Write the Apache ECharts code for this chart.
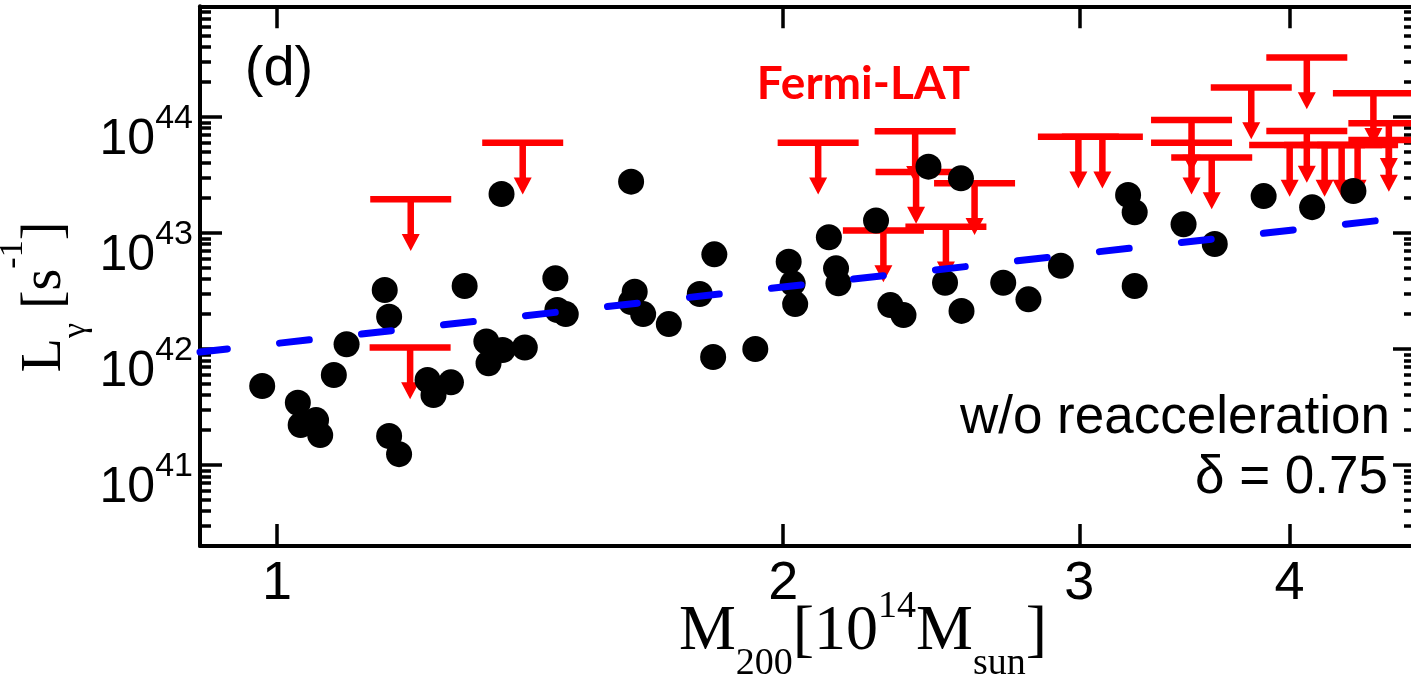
<!DOCTYPE html>
<html><head><meta charset="utf-8">
<script src="https://cdn.jsdelivr.net/npm/echarts@6/dist/echarts.min.js"></script>
<style>html,body{margin:0;padding:0;background:#fff}#c{width:1411px;height:683px}</style>
</head><body><div id="c"></div>
<script>
// ---------- data ----------
const xRange = [0.9, 4.75];
const yRange = [2e40, 9e44];
const xTickValues = [1, 2, 3, 4];
const yMajorExponents = [41, 42, 43, 44];
const yMinorExponents = [40, 41, 42, 43, 44];
const yMinorMultipliers = [2, 3, 4, 5, 6, 7, 8, 9];

// detected clusters (black dots): M200 [1e14 Msun], L_gamma [s^-1]
const detM = [0.980,1.029,1.033,1.055,1.061,1.081,1.100,1.159,1.166,1.166,1.182,1.229,1.239,1.269,1.293,1.332,1.336,1.362,1.404,1.360,1.464,1.468,1.485,1.624,1.632,1.624,1.651,1.710,1.784,1.820,1.817,1.925,2.015,2.026,2.033,2.129,2.150,2.157,2.271,2.440,2.551,2.316,2.358,2.496,2.553,2.703,2.798,2.925,3.207,3.236,3.236,3.460,3.611,3.861,4.126,4.366];
const detL = [4.80e41,3.44e41,2.21e41,2.44e41,1.81e41,5.97e41,1.10e42,3.23e42,1.90e42,1.78e41,1.24e41,5.41e41,4.01e41,5.16e41,3.49e42,1.16e42,7.53e41,9.80e41,1.03e42,2.17e43,4.07e42,2.17e42,2.00e42,2.77e43,3.12e42,2.54e42,2.00e42,1.64e42,2.98e42,6.55e42,8.53e41,1.00e42,5.66e42,3.68e42,2.44e42,9.18e42,4.96e42,3.68e42,1.28e43,3.73e43,2.96e43,2.39e42,1.96e42,3.73e42,2.13e42,3.73e42,2.68e42,5.22e42,2.13e43,1.51e43,3.49e42,1.19e43,8.04e42,2.08e43,1.67e43,2.30e43];

// Fermi-LAT upper limits (red)
const limM = [1.201,1.200,1.400,2.098,2.396,2.399,2.599,2.294,2.499,2.996,3.096,3.498,3.498,3.596,3.796,4.096,4.096,4.487,4.583,4.001,4.197,4.296,4.391,4.583];
const limL = [1.95e43,1.03e42,6.00e43,6.00e43,7.55e43,3.36e43,2.68e43,1.05e43,1.13e43,6.77e43,6.77e43,9.42e43,6.00e43,4.48e43,1.80e44,3.26e44,7.57e43,1.60e44,8.83e43,5.74e43,5.74e43,5.74e43,5.74e43,6.34e43];

// model curve (blue dashed, power law)
const modelM = [0.9, 4.75];
const modelL = [9.42e41, 1.39e43];

// ---------- chart ----------
const lg = Math.log10;
const xMinL = lg(xRange[0]), xMaxL = lg(xRange[1]);
const yMinL = lg(yRange[0]), yMaxL = lg(yRange[1]);
const xTicksL = xTickValues.map(lg);
const yMinorL = [];
yMinorExponents.forEach(n => yMinorMultipliers.forEach(m => {
  const v = n + lg(m);
  if (v >= yMinL - 1e-9 && v <= yMaxL + 1e-9) yMinorL.push(v);
}));

const K = '#000';
const sans = 'Liberation Sans', serif = 'Liberation Serif';
const lineSt = {show: true, onZero: false, lineStyle: {color: K, width: 4}};

function decoX(pos, labels) {
  return {
    type: 'value', position: pos, offset: 0, min: xMinL, max: xMaxL,
    axisLine: lineSt,
    axisTick: {show: true, inside: true, length: 22, customValues: xTicksL, lineStyle: {color: K, width: 3.5}},
    axisLabel: labels ? {show: true, customValues: xTicksL, margin: 11, color: K, fontSize: 54, fontFamily: sans,
      formatter: v => String(Math.round(Math.pow(10, v)))} : {show: false},
    splitLine: {show: false}
  };
}
function decoY(pos, major, labels) {
  const o = {
    type: 'value', position: pos, offset: 0, min: yMinL, max: yMaxL,
    axisLine: major ? lineSt : {show: false, onZero: false},
    axisTick: {show: true, inside: true, length: major ? 22 : 11, customValues: major ? yMajorExponents : yMinorL,
      lineStyle: {color: K, width: 3.5}},
    axisLabel: {show: false},
    splitLine: {show: false}
  };
  if (labels) {
    o.axisLabel = {
      show: true, customValues: yMajorExponents, margin: 7, padding: [46, 0, 0, 0],
      formatter: v => '{b|10}{s|' + Math.round(v) + '}',
      rich: {
        b: {fontSize: 50, lineHeight: 50, fontFamily: sans, color: K, verticalAlign: 'middle'},
        s: {fontSize: 34, lineHeight: 34, fontFamily: sans, color: K, verticalAlign: 'middle', padding: [0, 0, 42, 0]}
      }
    };
  }
  return o;
}

const limitSymbol = 'path://M0,0L81,0L81,6.5L43.75,6.5L43.75,38L49.5,38L40.5,55L31.5,38L37.25,38L37.25,6.5L0,6.5Z';

const option = {
  animation: false,
  backgroundColor: '#fff',
  grid: {left: 200, top: 6.3, width: 1215, height: 539.8, containLabel: false, outerBoundsMode: 'none'},
  xAxis: [
    {type: 'log', logBase: 10, min: xRange[0], max: xRange[1], show: false},
    decoX('bottom', true),
    decoX('top', false)
  ],
  yAxis: [
    {type: 'log', logBase: 10, min: yRange[0], max: yRange[1], show: false},
    decoY('left', true, true),
    decoY('left', false, false),
    decoY('right', true, false),
    decoY('right', false, false)
  ],
  series: [
    {
      type: 'line', xAxisIndex: 0, yAxisIndex: 0, showSymbol: false, symbol: 'none', silent: true,
      data: modelM.map((m, i) => [m, modelL[i]]),
      lineStyle: {color: '#0000ff', width: 7, type: [30, 52.5], dashOffset: 2.5, cap: 'round', opacity: 1}
    },
    {
      type: 'scatter', xAxisIndex: 0, yAxisIndex: 0, silent: true,
      symbol: limitSymbol, symbolSize: [81, 55], symbolOffset: [0, 24.25],
      itemStyle: {color: '#ff0000', opacity: 1},
      data: limM.map((m, i) => [m, limL[i]])
    },
    {
      type: 'scatter', xAxisIndex: 0, yAxisIndex: 0, silent: true,
      symbol: 'circle', symbolSize: 26,
      itemStyle: {color: '#000', opacity: 1},
      data: detM.map((m, i) => [m, detL[i]])
    }
  ],
  graphic: [
    {type: 'text', x: 279, y: 70, style: {text: '(d)', fill: K, fontSize: 56, fontFamily: sans, align: 'center', verticalAlign: 'middle'}},
    {type: 'text', x: 863.5, y: 84, style: {text: 'Fermi-LAT', fill: '#ff0000', fontSize: 46, fontWeight: 'bold', fontFamily: 'Lato', align: 'center', verticalAlign: 'middle'}},
    {type: 'text', x: 1390, y: 418, style: {text: 'w/o reacceleration', fill: K, fontSize: 53, fontFamily: sans, align: 'right', verticalAlign: 'middle'}},
    {type: 'text', x: 1388, y: 478, style: {text: 'δ = 0.75', fill: K, fontSize: 53, fontFamily: sans, align: 'right', verticalAlign: 'middle'}},
    {type: 'text', x: 863, y: 632, style: {
      text: '{m|M}{sub|200}{m|[10}{sup|14}{m|M}{sub|sun}{m|]}',
      align: 'center', verticalAlign: 'middle', fill: K,
      rich: {
        m: {fontSize: 64, lineHeight: 64, fontFamily: serif, fill: K, verticalAlign: 'middle'},
        sub: {fontSize: 38, lineHeight: 38, fontFamily: serif, fill: K, verticalAlign: 'middle', padding: [64, 0, 0, 0]},
        sup: {fontSize: 38, lineHeight: 38, fontFamily: serif, fill: K, verticalAlign: 'middle', padding: [0, 0, 50, 0]}
      }
    }},
    {type: 'text', x: 45, y: 297, rotation: Math.PI / 2, style: {
      text: '{m|L}{sub|γ}{m| [s}{sup|-1}{m|]}',
      align: 'center', verticalAlign: 'middle', fill: K,
      rich: {
        m: {fontSize: 56, lineHeight: 56, fontFamily: serif, fill: K, verticalAlign: 'middle'},
        sub: {fontSize: 34, lineHeight: 34, fontFamily: serif, fill: K, verticalAlign: 'middle', padding: [62, 0, 0, 0]},
        sup: {fontSize: 34, lineHeight: 34, fontFamily: serif, fill: K, verticalAlign: 'middle', padding: [0, 0, 64, 0]}
      }
    }}
  ]
};
const chart = echarts.init(document.getElementById('c'), null, {renderer: 'canvas'});
chart.setOption(option);
</script>
</body></html>
